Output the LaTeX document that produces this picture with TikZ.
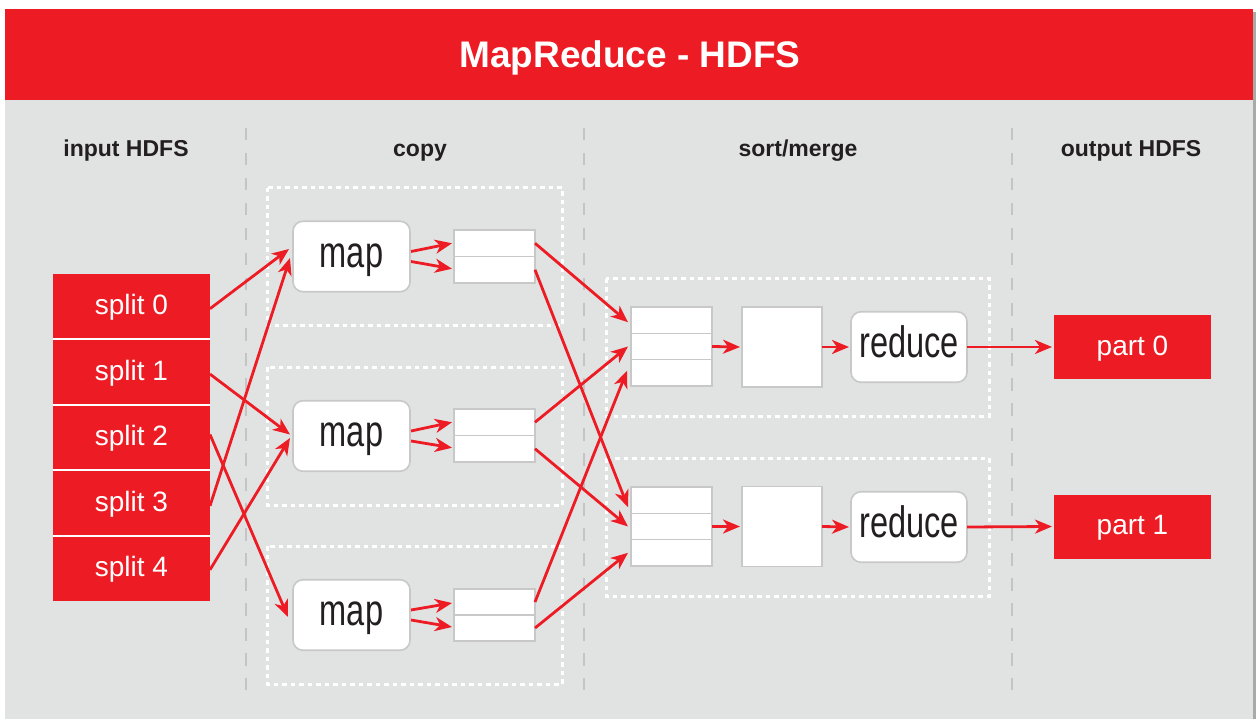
\documentclass[tikz,border=0pt]{standalone}
\usepackage{fontspec}
\setmainfont{Liberation Sans}
\newfontfamily\narrowfont[FakeStretch=0.74]{Liberation Sans}
\usetikzlibrary{arrows.meta,calc}
\definecolor{hred}{HTML}{ED1C24}
\definecolor{bggray}{HTML}{E1E3E2}
\definecolor{txtdark}{HTML}{231F20}
\definecolor{boxline}{HTML}{C8C8C8}
\definecolor{sepline}{HTML}{C4C4C4}
\definecolor{shadowgray}{HTML}{A9A9A9}
\begin{document}
\begin{tikzpicture}[x=1pt,y=-1pt,
  redbox/.style={fill=hred, text=white, inner sep=0pt, outer sep=0pt,
    minimum width=157pt, font=\fontsize{28}{30}\selectfont},
  splitbox/.style={redbox, minimum height=65.4pt, text height=20pt, text depth=3.5pt},
  partbox/.style={redbox, minimum height=64pt, text height=20pt, text depth=4pt},
  roundbox/.style={fill=white, draw=boxline, line width=1.6pt, rounded corners=10pt,
    inner sep=0pt, outer sep=0pt, minimum height=70.5pt, text=txtdark,
    font=\narrowfont\fontsize{44}{48}\selectfont, text height=25.5pt, text depth=4pt},
  cellbox/.style={fill=white, draw=boxline, line width=1.6pt, inner sep=0pt, outer sep=0pt,
    minimum width=81pt},
  colhead/.style={anchor=base, text=txtdark, font=\bfseries\fontsize{23}{26}\selectfont},
  colsep/.style={draw=sepline, line width=1.8pt, dash pattern=on 12.5pt off 12.5pt},
  dotframe/.style={draw=white, line width=3pt, dash pattern=on 4.5pt off 4pt},
  arr/.style={draw=hred, line width=2.8pt, -{Stealth[length=17pt,width=14pt,inset=5pt]}}
]
\useasboundingbox (0,0) rectangle (1258,719);
% background
\fill[white] (0,0) rectangle (1258,719);
\fill[bggray] (5,100) rectangle (1253,719);
\fill[shadowgray] (1253,12) rectangle (1256,719);
\fill[hred] (5,9) rectangle (1253,100);
\node[anchor=base, text=white, font=\bfseries\fontsize{37}{40}\selectfont] (title) at (630,68) {MapReduce - HDFS};

% column headers
\node[colhead] (hin) at (126,157) {input HDFS};
\node[colhead] (hcopy) at (420,157) {copy};
\node[colhead] (hsort) at (798,157) {sort/merge};
\node[colhead] (hout) at (1131,157) {output HDFS};

% column separators
\coordinate (sepAt) at (246,128); \coordinate (sepAb) at (246,690);
\coordinate (sepBt) at (584,128); \coordinate (sepBb) at (584,690);
\coordinate (sepCt) at (1012,128); \coordinate (sepCb) at (1012,690);
\draw[colsep] (sepAt) -- (sepAb);
\draw[colsep] (sepBt) -- (sepBb);
\draw[colsep] (sepCt) -- (sepCb);

% dotted frames
\draw[dotframe] (267,188) rectangle (562,325);
\draw[dotframe] (267,367) rectangle (562,505);
\draw[dotframe] (267,546) rectangle (562,684);
\draw[dotframe] (606,279) rectangle (989,416);
\draw[dotframe] (606,458) rectangle (989,596);

% splits
\node[splitbox] (split0) at (131.5,306.7) {split 0};
\node[splitbox] (split1) at (131.5,372.1) {split 1};
\node[splitbox] (split2) at (131.5,437.5) {split 2};
\node[splitbox] (split3) at (131.5,502.9) {split 3};
\node[splitbox] (split4) at (131.5,568.3) {split 4};
\foreach \s in {split0,split1,split2,split3}
  \draw[white, line width=2pt] (\s.south west) -- (\s.south east);

% maps
\node[roundbox, minimum width=117pt] (map1) at (351.5,256.5) {map};
\node[roundbox, minimum width=117pt] (map2) at (351.5,436) {map};
\node[roundbox, minimum width=117pt] (map3) at (351.5,615) {map};

% map buffers
\node[cellbox, minimum height=26.5pt] (buf1a) at (494.5,243.25) {};
\node[cellbox, minimum height=26.5pt] (buf1b) at (494.5,269.75) {};
\node[cellbox, minimum height=26.5pt] (buf2a) at (494.5,422.25) {};
\node[cellbox, minimum height=26.5pt] (buf2b) at (494.5,448.75) {};
\node[cellbox, minimum height=26pt] (buf3a) at (494.5,602) {};
\node[cellbox, minimum height=26pt] (buf3b) at (494.5,628) {};

% merge stacks
\node[cellbox, minimum height=26.3pt] (m1a) at (671.5,320.2) {};
\node[cellbox, minimum height=26.3pt] (m1b) at (671.5,346.5) {};
\node[cellbox, minimum height=26.3pt] (m1c) at (671.5,372.8) {};
\node[cellbox, minimum height=26.3pt] (m2a) at (671.5,500.2) {};
\node[cellbox, minimum height=26.3pt] (m2b) at (671.5,526.5) {};
\node[cellbox, minimum height=26.3pt] (m2c) at (671.5,552.8) {};

% squares
\node[cellbox, minimum width=80pt, minimum height=80pt] (sq1) at (782,347) {};
\node[cellbox, minimum width=80pt, minimum height=80pt] (sq2) at (782,526.5) {};

% reducers
\node[roundbox, minimum width=116pt] (red1) at (909,347) {reduce};
\node[roundbox, minimum width=116pt] (red2) at (909,527) {reduce};

% parts
\node[partbox] (part0) at (1132.5,347) {part 0};
\node[partbox] (part1) at (1132.5,526.5) {part 1};

% split -> map
\draw[arr] ($(split0.east)+(0,2)$) -- ($(map1.west)+(-4,-7.5)$);
\draw[arr] ($(split3.east)+(0,3)$) -- ($(map1.west)+(-3,1.5)$);
\draw[arr] ($(split1.east)+(0,2)$) -- ($(map2.west)+(-3,-1.5)$);
\draw[arr] ($(split4.east)+(0,1.5)$) -- ($(map2.west)+(-3,2)$);
\draw[arr] ($(split2.east)+(0,-3)$) -- ($(map3.west)+(-5,2)$);

% map -> buffers
\draw[arr] ($(map1.east)+(1,-5)$) -- ($(buf1a.west)+(-2,0)$);
\draw[arr] ($(map1.east)+(1,5)$) -- ($(buf1b.west)+(-2,-1)$);
\draw[arr] ($(map2.east)+(1,-5)$) -- ($(buf2a.west)+(-2,0)$);
\draw[arr] ($(map2.east)+(1,5)$) -- ($(buf2b.west)+(-2,-1)$);
\draw[arr] ($(map3.east)+(1,-5)$) -- ($(buf3a.west)+(-2,1)$);
\draw[arr] ($(map3.east)+(1,5)$) -- ($(buf3b.west)+(-2,-1)$);

% buffers -> merge
\draw[arr] (buf1a.east) -- ($(m1a.west)+(-3,2)$);
\draw[arr] (buf1b.east) -- ($(m2a.west)+(-3,7)$);
\draw[arr] (buf2a.east) -- ($(m1b.west)+(-3,0)$);
\draw[arr] (buf2b.east) -- ($(m2b.west)+(-3,0)$);
\draw[arr] (buf3a.east) -- ($(m1c.west)+(-4,-2)$);
\draw[arr] (buf3b.east) -- ($(m2c.west)+(-3,0)$);

% merge -> square -> reduce -> part
\draw[arr] (m1b.east) -- ($(sq1.west)+(-2,0)$);
\draw[arr] (m2b.east) -- ($(sq2.west)+(-2,0)$);
\draw[arr] (sq1.east) -- ($(red1.west)+(-2,0)$);
\draw[arr] (sq2.east) -- ($(red2.west)+(-2,0)$);
\draw[arr] (red1.east) -- ($(part0.west)+(-2,0)$);
\draw[arr] (red2.east) -- ($(part1.west)+(-2,0)$);
\end{tikzpicture}
\end{document}
